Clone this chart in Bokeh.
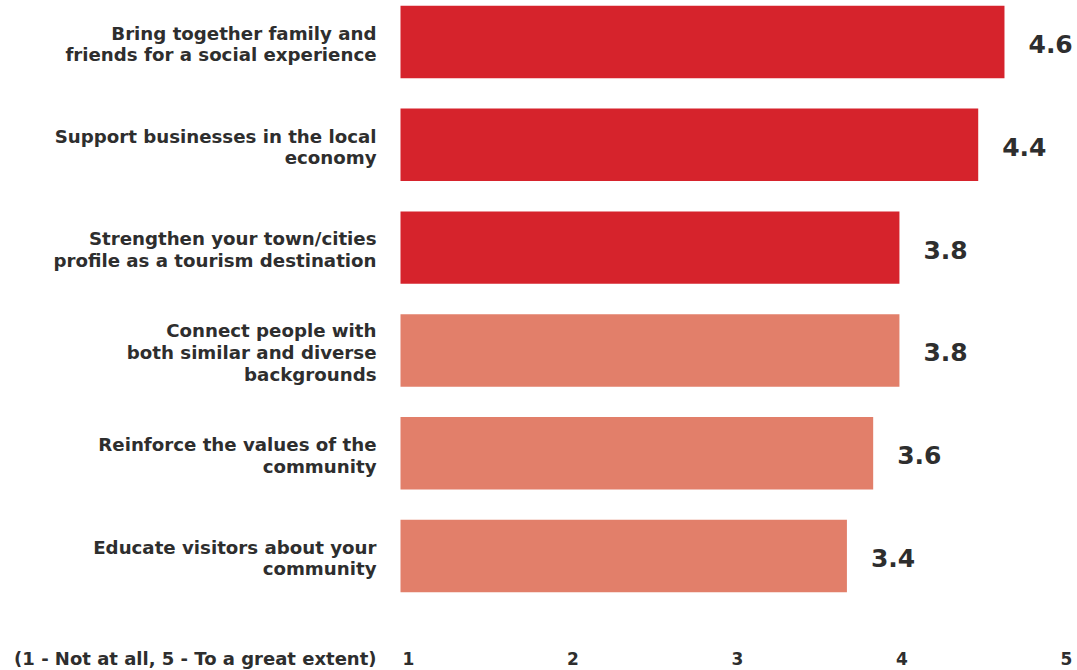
from bokeh.plotting import figure
from bokeh.models import Range1d, ColumnDataSource
from bokeh.core.properties import value
from bokeh.embed import file_html
from bokeh.resources import INLINE

categories = [
    "Bring together family and\nfriends for a social experience",
    "Support businesses in the local\neconomy",
    "Strengthen your town/cities\nprofile as a tourism destination",
    "Connect people with\nboth similar and diverse\nbackgrounds",
    "Reinforce the values of the\ncommunity",
    "Educate visitors about your\ncommunity",
]
scores = [4.6, 4.4, 3.8, 3.8, 3.6, 3.4]
groups = ["primary", "primary", "primary", "secondary", "secondary", "secondary"]
tick_values = [1, 2, 3, 4, 5]
scale_note = "(1 - Not at all, 5 - To a great extent)"

palette = {"primary": "#D6232C", "secondary": "#E27F6A"}
FONT = "DejaVu Sans"
TEXT = "#2e2e2e"

idx = list(range(len(categories)))
src = ColumnDataSource(dict(
    y=idx,
    score=scores,
    cat=categories,
    color=[palette[g] for g in groups],
    lbl=[f"{s:.1f}" for s in scores],
    zero=[0] * len(idx),
))

p = figure(width=1077, height=670, output_backend="svg", toolbar_location=None,
           x_range=Range1d(-400 / 131.3, 677 / 131.3),
           y_range=Range1d(6.114, -0.404),
           min_border=0, min_border_left=0, min_border_right=0,
           min_border_top=0, min_border_bottom=0)
p.extra_x_ranges = {"scale": Range1d(1 - 408 / 164.5, 1 + 669 / 164.5)}
p.axis.visible = False
p.grid.visible = False
p.outline_line_color = None
p.background_fill_color = "white"
p.border_fill_color = "white"

p.hbar(y="y", left=0, right="score", height=0.705, color="color", line_color=None, source=src)

p.text(x="score", y="y", text="lbl", source=src, x_offset=24, y_offset=2,
       text_align="left", text_baseline="middle", text_font=value(FONT),
       text_font_style="bold", text_font_size="25px", text_color=TEXT)

p.text(x="zero", y="y", text="cat", source=src, x_offset=-24, y_offset=2,
       text_align="right", text_baseline="middle", text_font=value(FONT),
       text_font_style="bold", text_font_size="18.2px", text_color=TEXT,
       text_line_height=1.03)

p.text(x=tick_values, y=[6.0] * len(tick_values), text=[str(t) for t in tick_values],
       x_range_name="scale", y_offset=0,
       text_align="center", text_baseline="middle", text_font=value(FONT),
       text_font_style="bold", text_font_size="17px", text_color=TEXT)

p.text(x=[0], y=[6.0], text=[scale_note], x_offset=-24, y_offset=0,
       text_align="right", text_baseline="middle", text_font=value(FONT),
       text_font_style="bold", text_font_size="18px", text_color=TEXT)

open("out.html", "w").write(file_html(p, INLINE))
